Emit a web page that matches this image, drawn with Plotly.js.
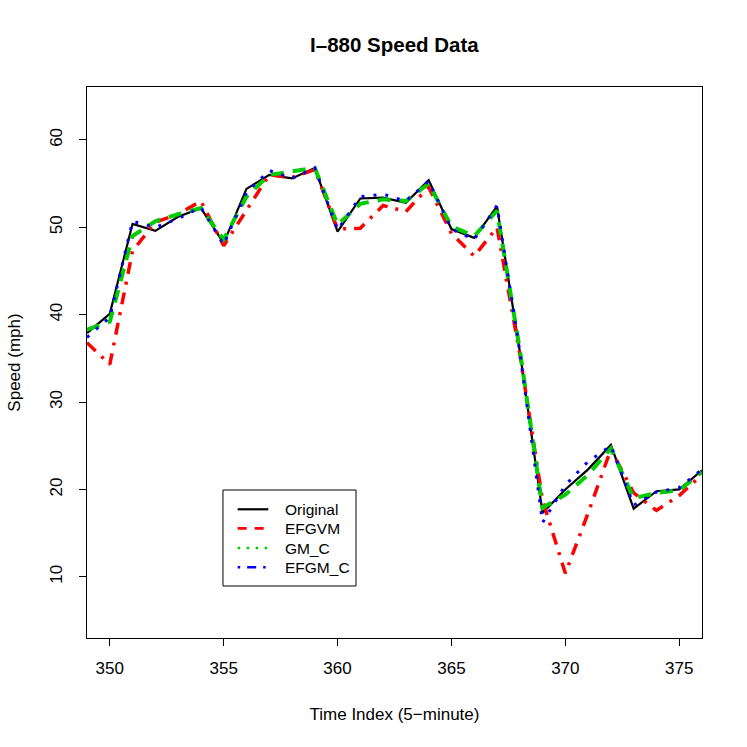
<!DOCTYPE html>
<html>
<head>
<meta charset="utf-8">
<script src="https://cdn.plot.ly/plotly-3.0.1.min.js"></script>
<style>html,body{margin:0;padding:0;background:#fff;}#chart{width:747px;height:747px;}</style>
</head>
<body>
<div id="chart"></div>
<script>
var timeIndex = [349,350,351,352,353,354,355,356,357,358,359,360,361,362,363,364,365,366,367,368,369,370,371,372,373,374,375,376];
var original = [37.9,40.1,50.4,49.6,51.2,52.2,48.2,54.4,56.0,55.6,56.8,49.5,53.3,53.4,52.8,55.4,49.8,48.8,52.4,35.8,17.3,20.0,22.3,25.1,17.8,19.8,20.0,22.2];
var efgvm = [36.8,34.3,47.3,50.6,51.5,53.0,47.9,52.0,56.0,55.7,56.6,49.8,49.9,52.5,51.8,54.6,49.3,46.7,50.0,35.5,18.8,10.4,17.3,24.6,19.6,17.6,19.3,21.7];
var gmC = [38.3,39.2,49.0,50.7,51.5,52.2,48.6,53.5,56.0,56.4,56.8,50.3,52.7,53.2,53.0,55.0,50.1,49.0,51.9,36.0,17.9,19.4,21.7,24.7,19.0,19.6,19.9,22.0];
var efgmC = [37.4,39.7,50.7,50.0,51.0,52.3,48.0,54.0,56.5,55.6,56.8,49.7,53.5,53.8,53.0,55.3,49.8,48.6,52.5,35.8,16.2,20.5,23.2,25.0,18.2,19.7,20.2,22.3];
var seriesNames = ["Original","EFGVM","GM_C","EFGM_C"];
var xTicks = [350,355,360,365,370,375];
var yTicks = [10,20,30,40,50,60];

var FONT = "Liberation Sans, Arial, Helvetica, sans-serif";

var traces = [
  {x: timeIndex, y: original, mode: "lines", name: seriesNames[0], line: {color: "#000000", width: 2.2}, showlegend: false, hoverinfo: "skip"},
  {x: timeIndex, y: efgvm, mode: "lines", name: seriesNames[1], line: {color: "#ff0000", width: 3.5, dash: "12px,8px,3px,8px"}, showlegend: false, hoverinfo: "skip"},
  {x: timeIndex, y: gmC, mode: "lines", name: seriesNames[2], line: {color: "#00cd00", width: 4, dash: "13px,9px"}, showlegend: false, hoverinfo: "skip"},
  {x: timeIndex, y: efgmC, mode: "lines", name: seriesNames[3], line: {color: "#0000ff", width: 3, dash: "3px,9px"}, showlegend: false, hoverinfo: "skip"}
];

// Legend drawn in paper coordinates (R-style legend box)
var legendColors = ["#000000", "#ff0000", "#00cd00", "#0000ff"];
var legendDash = ["solid", "9px,8px", "2.5px,6.5px", "2.5px,7px,9px,7px"];
var legendWidth = [2.2, 2.8, 2.5, 2.5];
var rowY = [0.2336, 0.1991, 0.1633, 0.1283];
var shapes = [{type: "rect", xref: "paper", yref: "paper", x0: 0.2211, x1: 0.4374, y0: 0.0944, y1: 0.2686,
  line: {color: "#000", width: 1}, fillcolor: "#ffffff", layer: "above"}];
var annotations = [];
for (var i = 0; i < seriesNames.length; i++) {
  shapes.push({type: "line", xref: "paper", yref: "paper", x0: 0.2450, x1: 0.2948, y0: rowY[i], y1: rowY[i],
    line: {color: legendColors[i], width: legendWidth[i], dash: legendDash[i]}, layer: "above"});
  annotations.push({xref: "paper", yref: "paper", x: 0.3182, y: rowY[i], xanchor: "left", yanchor: "middle",
    text: seriesNames[i], showarrow: false, font: {family: FONT, size: 15.5, color: "#000"}});
}

var layout = {
  width: 747, height: 747,
  margin: {l: 87, r: 45, t: 87, b: 109, pad: 0},
  paper_bgcolor: "#ffffff", plot_bgcolor: "#ffffff",
  font: {family: FONT, size: 17, color: "#000000"},
  title: {text: "<b>I\u2013880 Speed Data</b>", font: {family: FONT, size: 20.5, color: "#000"}, x: 0.528, xanchor: "center", y: 0.94, yanchor: "middle"},
  xaxis: {
    range: [349, 376], tickvals: xTicks, ticktext: xTicks.map(String),
    showgrid: false, zeroline: false, showline: true, mirror: true, linecolor: "#000", linewidth: 1,
    ticks: "outside", ticklen: 7, tickwidth: 1, tickcolor: "#000", ticklabelstandoff: 8,
    tickfont: {family: FONT, size: 17},
    title: {text: "Time Index (5\u2212minute)", font: {family: FONT, size: 17}, standoff: 30}
  },
  yaxis: {
    range: [3.0, 66.06], tickvals: yTicks, ticktext: yTicks.map(String),
    showgrid: false, zeroline: false, showline: true, mirror: true, linecolor: "#000", linewidth: 1,
    ticks: "outside", ticklen: 7, tickwidth: 1, tickcolor: "#000", tickangle: -90, ticklabelstandoff: 10,
    tickfont: {family: FONT, size: 17},
    title: {text: "Speed (mph)", font: {family: FONT, size: 17}, standoff: 22}
  },
  shapes: shapes,
  annotations: annotations,
  showlegend: false
};

Plotly.newPlot("chart", traces, layout, {displayModeBar: false, staticPlot: true});
</script>
</body>
</html>
